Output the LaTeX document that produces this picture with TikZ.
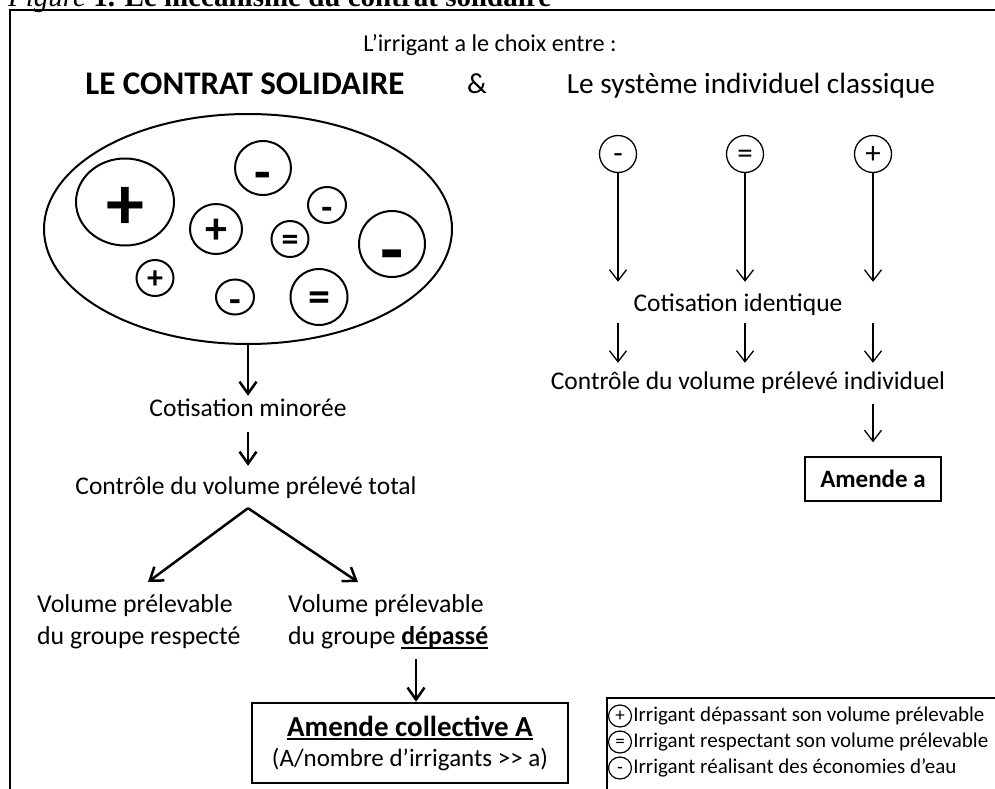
\documentclass[tikz,border=0pt]{standalone}
\usepackage{fontspec}
\setmainfont{Carlito}
\newfontfamily\timesfont{Liberation Serif}
\usetikzlibrary{arrows.meta,shapes.geometric}

\newcommand{\irrsym}[2][.3em]{\smash{\raisebox{-#1}{#2}}}
\newcommand{\souligne}[2][5pt]{\setbox0\hbox{#2}\rlap{\rule[-#1]{\wd0}{2.2pt}}\box0}

\tikzset{
  fleche/.style={line width=2.5pt,-{Straight Barb[length=12pt,width=17pt]}},
  flechefine/.style={line width=1.3pt,-{Straight Barb[length=11pt,width=17pt]}},
  bulle/.style={draw,ellipse,line width=2pt,inner sep=0pt},
  petitebulle/.style={draw,ellipse,line width=1.3pt,inner sep=0pt,minimum width=37pt,minimum height=37pt,font=\fontsize{31}{31}\selectfont},
  legbulle/.style={draw,ellipse,line width=1.2pt,inner sep=0pt,minimum width=23pt,minimum height=22pt,font=\fontsize{19}{19}\selectfont},
  txt/.style={font=\fontsize{25.5}{31}\selectfont,inner sep=0pt,text height=18pt,text depth=6pt},
  txtlong/.style={font=\fontsize{25.8}{32}\selectfont,inner sep=0pt,align=left,anchor=north west}
}

\begin{document}
\begin{tikzpicture}[x=1pt,y=-1pt]
   \useasboundingbox (0,0) rectangle (995,789);
   \clip (0,0) rectangle (995,789);

   \node[anchor=base west,inner sep=0pt,font=\timesfont\fontsize{29}{34}\selectfont] (titre) at (8,7)
   {\textit{Figure} \textbf{1. Le mécanisme du contrat solidaire}};
   \draw[line width=2pt] (10,800) -- (10,10) -- (1000,10);

   \node[font=\fontsize{24.2}{28}\selectfont] (choix) at (490,45) {L’irrigant a le choix entre :};
   \node[font=\bfseries\fontsize{33}{38}\selectfont] (solidaire) at (245,84) {LE CONTRAT SOLIDAIRE};
   \node[font=\fontsize{29}{35}\selectfont] (et) at (477,84) {\&};
   \node[font=\fontsize{29.3}{35}\selectfont] (classique) at (751,86) {Le système individuel classique};

   \node[draw,ellipse,line width=2pt,minimum width=408pt,minimum height=230pt] (groupe) at (248,229) {};
   \node[bulle,minimum width=98pt,minimum height=87pt,font=\bfseries\fontsize{76}{76}\selectfont] (p1) at (125,202) {\irrsym[.36em]{+}};
   \node[bulle,minimum width=56pt,minimum height=54pt,font=\bfseries\fontsize{54}{54}\selectfont] (m1) at (263,168) {\irrsym[.42em]{-}};
   \node[bulle,minimum width=38pt,minimum height=36pt,font=\bfseries\fontsize{36}{36}\selectfont] (m2) at (327,205) {\irrsym[.4em]{-}};
   \node[bulle,minimum width=52pt,minimum height=50pt,font=\bfseries\fontsize{44}{44}\selectfont] (p2) at (216,229) {\irrsym[.34em]{+}};
   \node[bulle,minimum width=37pt,minimum height=36pt,font=\bfseries\fontsize{34}{34}\selectfont] (e1) at (290,239) {\irrsym[.34em]{=}};
   \node[bulle,minimum width=66pt,minimum height=66pt,font=\bfseries\fontsize{76}{76}\selectfont] (m3) at (392,244) {\irrsym[.42em]{-}};
   \node[bulle,minimum width=37pt,minimum height=36pt,font=\bfseries\fontsize{32}{32}\selectfont] (p3) at (155,278) {\irrsym[.34em]{+}};
   \node[bulle,minimum width=38pt,minimum height=35pt,font=\bfseries\fontsize{38}{38}\selectfont] (m4) at (235,297) {\irrsym[.4em]{-}};
   \node[bulle,minimum width=57pt,minimum height=56pt,font=\bfseries\fontsize{44}{44}\selectfont] (e2) at (319,297) {\irrsym[.34em]{=}};

   \node[txt] (minoree) at (248,410) {Cotisation minorée};
   \node[txt] (total) at (246,488) {Contrôle du volume prélevé total};
   \draw[fleche,shorten >=2pt] (groupe.south) -- (minoree.north);
   \draw[fleche,shorten <=10pt,shorten >=10pt] (minoree.south) -- (minoree.south |- total.north);
   \coordinate (fourche) at ([yshift=-8pt]minoree.south |- total.south);
   \coordinate (gauche) at (148,582);
   \coordinate (droite) at (358,582);
   \draw[fleche] (fourche) -- (gauche);
   \draw[fleche] (fourche) -- (droite);

   \node[txtlong] (respecte) at (37,594) {Volume prélevable\\du groupe respecté};
   \node[txtlong] (depasse) at (288,594) {Volume prélevable\\du groupe \textbf{\souligne{dépassé}}};
   \node[draw,line width=2.5pt,minimum width=316pt,minimum height=80pt,inner sep=0pt,align=center,
   font=\fontsize{25}{30}\selectfont] (collective) at (410,743)
   {{\bfseries\fontsize{29}{30}\selectfont\souligne[4pt]{Amende collective A}}\\(A/nombre d’irrigants >{}> a)};
   \coordinate (entree) at ([xshift=6pt]collective.north);
   \draw[fleche,shorten <=10pt] (entree |- depasse.south) -- (entree);

   \node[petitebulle] (moins) at (618,154) {\irrsym{-}};
   \node[petitebulle] (egal) at (745,154) {\irrsym{=}};
   \node[petitebulle] (plus) at (873,154) {\irrsym{+}};
   \node[txt] (identique) at (738,305) {Cotisation identique};
   \node[txt] (individuel) at (748,383) {Contrôle du volume prélevé individuel};
   \foreach \col in {moins,egal,plus}{
     \draw[flechefine,shorten >=11pt] (\col) -- (\col |- identique.north);
     \draw[flechefine,shorten <=6pt,shorten >=8pt] (\col |- identique.south) -- (\col |- individuel.north);
   }
   \node[draw,line width=1.5pt,minimum width=136pt,minimum height=44pt,
   font=\bfseries\fontsize{25}{30}\selectfont] (amendea) at (873,479) {Amende a};
   \draw[flechefine,shorten <=9pt,shorten >=14pt] (individuel.south -| amendea) -- (amendea.north);

   \draw[line width=1.3pt] (607,698) rectangle (1010,800);
   \foreach \s/\t [count=\i] in {+/Irrigant dépassant son volume prélevable,
     =/Irrigant respectant son volume prélevable,
     -/Irrigant réalisant des économies d’eau}{
     \node[legbulle] (leg\i) at (620,{690+26*\i}) {\irrsym{\s}};
     \node[anchor=west,inner sep=1pt,font=\fontsize{21}{24}\selectfont] (legtxt\i) at (leg\i.east) {\t};
   }
\end{tikzpicture}
\end{document}
